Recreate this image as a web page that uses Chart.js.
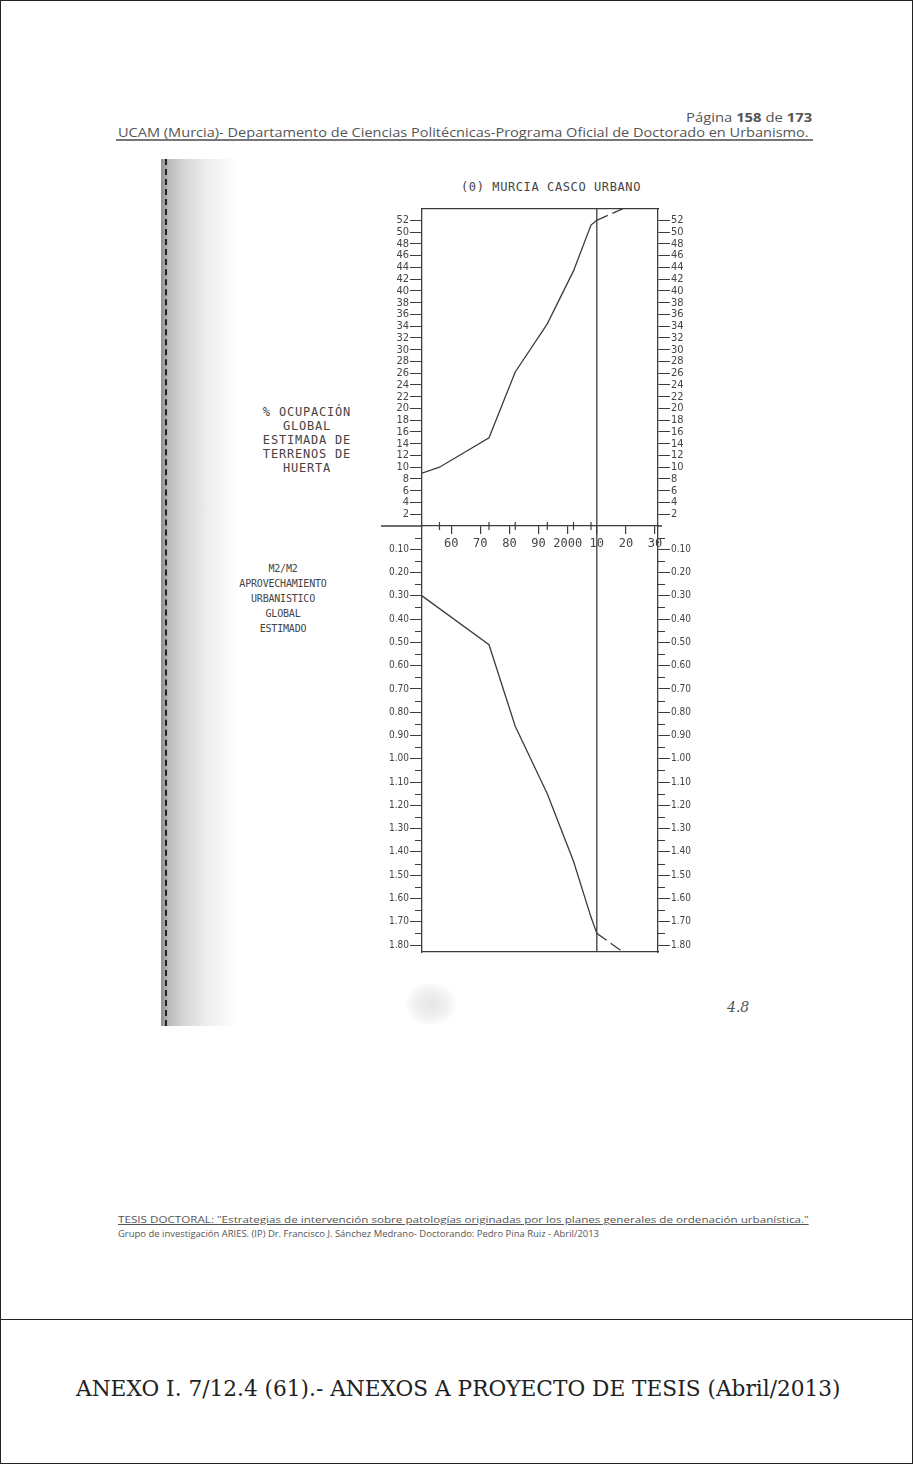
<!DOCTYPE html>
<html>
<head>
<meta charset="utf-8">
<title>(0) MURCIA CASCO URBANO</title>
<script src="https://cdn.jsdelivr.net/npm/chart.js@4.4.1/dist/chart.umd.min.js"></script>
<style>
    html, body { margin: 0; padding: 0; background: #fff; }
    #page {
        position: relative;
        width: 913px;
        height: 1464px;
        overflow: hidden;
        background: #fff;
        box-sizing: border-box;
        border: 1px solid #222;
    }
    .abs { position: absolute; white-space: nowrap; }
    .fit { transform-origin: 0 50%; }
    .doc { font-family: 'Open Sans', 'Liberation Sans', sans-serif; color: #555; }
    .plot { font-family: 'DejaVu Sans Mono', 'Liberation Mono', monospace; color: #444; text-align: center; }
    #sep { position: absolute; left: 0; right: 0; top: 1318px; border-top: 1px solid #222; }
    #strip {
        position: absolute; left: 160px; top: 158px; width: 75px; height: 867px;
        background: linear-gradient(to right, #8f8f8f 0%, #b9b9b9 10%, #d6d6d6 30%, #ececec 60%, rgba(255,255,255,0) 100%);
    }
    #dash {
        position: absolute; left: 164px; top: 158px; height: 867px;
        border-left: 2px dashed #222;
    }
    #smudge {
        position: absolute; left: 405px; top: 982px; width: 50px; height: 42px;
        background: radial-gradient(ellipse at center, #e6e6e6 0%, #f2f2f2 50%, rgba(255,255,255,0) 75%);
    }
    canvas { position: absolute; }
</style>
</head>
<body>
<div id="page">
    <div id="strip"></div>
    <div id="dash"></div>
    <div id="smudge"></div>

    <div id="pagina" class="abs doc fit" style="left:685px; top:108px; font-size:12px;">Página <b>158</b> de <b>173</b></div>
    <div id="ucam" class="abs doc fit" style="left:117px; top:123px; font-size:12px;">UCAM (Murcia)- Departamento de Ciencias Politécnicas-Programa Oficial de Doctorado en Urbanismo.</div>
    <div class="abs" style="left:115px; top:138px; width:697px; height:2px; background:#777;"></div>

    <div class="abs plot" style="left:450px; top:179px; width:200px; font-size:12px; letter-spacing:0.6px;">(0) MURCIA CASCO URBANO</div>

    <div class="abs plot" style="left:236px; top:404px; width:140px; font-size:12px; line-height:14px; letter-spacing:0.8px;">% OCUPACIÓN<br>GLOBAL<br>ESTIMADA DE<br>TERRENOS DE<br>HUERTA</div>

    <div class="abs plot" style="left:212px; top:560px; width:140px; font-size:10px; line-height:15px; letter-spacing:-0.2px;">M2/M2<br>APROVECHAMIENTO<br>URBANISTICO<br>GLOBAL<br>ESTIMADO</div>

    <canvas id="topChart" width="320" height="360" style="left:380px; top:200px; width:320px; height:360px;"></canvas>
    <canvas id="botChart" width="320" height="450" style="left:380px; top:515px; width:320px; height:450px;"></canvas>

    <div class="abs" style="left:726px; top:998px; font-family:'DejaVu Serif', serif; font-style:italic; font-size:14px; color:#555;">4.8</div>

    <div id="tesis" class="abs doc fit" style="left:117px; top:1212px; font-size:9px; text-decoration:underline;">TESIS DOCTORAL: "Estrategias de intervención sobre patologías originadas por los planes generales de ordenación urbanística."</div>
    <div id="grupo" class="abs doc fit" style="left:117px; top:1226px; font-size:9px;">Grupo de investigación ARIES. (IP) Dr. Francisco J. Sánchez Medrano- Doctorando: Pedro Pina Ruiz - Abril/2013</div>

    <div id="sep"></div>
    <div id="anexo" class="abs fit" style="left:75px; top:1375px; font-family:'DejaVu Serif', 'Liberation Serif', serif; font-size:22px; color:#222;">ANEXO I. 7/12.4 (61).- ANEXOS A PROYECTO DE TESIS (Abril/2013)</div>
</div>

<script>
// x axis (years)
const decadeYears = [1960, 1970, 1980, 1990, 2000, 2010, 2020, 2030];
const decadeLabels = ['60', '70', '80', '90', '2000', '10', '20', '30'];
const markYears = [1956, 1973, 1982, 1993, 2002, 2008];
const refYear = 2010;

// upper graph: % ocupacion de huerta
const topYears = [1950, 1956, 1973, 1982, 1993, 2002, 2008, 2010];
const topValues = [9.0, 10.0, 15.0, 26.2, 34.4, 43.4, 51.2, 52.0];
const topProjYears = [2010, 2019];
const topProjValues = [52.0, 54.0];
const topTicks = [2, 4, 6, 8, 10, 12, 14, 16, 18, 20, 22, 24, 26, 28, 30, 32, 34, 36, 38, 40, 42, 44, 46, 48, 50, 52];

// lower graph: m2/m2 aprovechamiento
const botYears = [1950, 1973, 1982, 1993, 2002, 2008, 2010];
const botValues = [0.30, 0.51, 0.86, 1.15, 1.44, 1.68, 1.75];
const botProjYears = [2010, 2019];
const botProjValues = [1.75, 1.83];
const botTicks = [0.10, 0.20, 0.30, 0.40, 0.50, 0.60, 0.70, 0.80, 0.90, 1.00, 1.10, 1.20, 1.30, 1.40, 1.50, 1.60, 1.70, 1.80];
const botMinorTicks = [0.05, 0.15, 0.25, 0.35, 0.45, 0.55, 0.65, 0.75, 0.85, 0.95, 1.05, 1.15, 1.25, 1.35, 1.45, 1.55, 1.65, 1.75];

const INK = '#3c3c3c';
const MONO = "'DejaVu Sans Mono', 'Liberation Mono', monospace";
const NARROW = "'DejaVu Sans Condensed', 'Liberation Sans Narrow', 'Roboto Condensed', Roboto, sans-serif";

function fitText(id, w) {
    const el = document.getElementById(id);
    el.style.transform = 'scaleX(' + (w / el.scrollWidth) + ')';
}
fitText('pagina', 126);
fitText('ucam', 691);
fitText('tesis', 691);
fitText('grupo', 481);
fitText('anexo', 765);

const pts = (xs, ys) => xs.map((x, i) => ({ x: x, y: ys[i] }));

// short ticks between labelled ones, and the middle line running out to the left
const minorTicks = {
    id: 'minorTicks',
    afterDraw(chart, args, opts) {
        const ctx = chart.ctx;
        ctx.save();
        ctx.strokeStyle = INK;
        ctx.lineWidth = 1;
        (opts.values || []).forEach(v => {
            ['y', 'y2'].forEach(id => {
                const s = chart.scales[id];
                const py = Math.round(s.getPixelForValue(v)) + 0.5;
                const left = s.position === 'left';
                const x0 = left ? s.right : s.left;
                ctx.beginPath();
                ctx.moveTo(x0, py);
                ctx.lineTo(x0 + (left ? -7 : 7), py);
                ctx.stroke();
            });
        });
        if (opts.extendAxis) {
            const a = chart.chartArea;
            ctx.lineWidth = 1.3;
            ctx.beginPath();
            ctx.moveTo(0, a.bottom);
            ctx.lineTo(a.left, a.bottom);
            ctx.moveTo(a.right, a.bottom);
            ctx.lineTo(a.right + 4, a.bottom);
            ctx.stroke();
        }
        ctx.restore();
    }
};

function yAxis(position, min, max, ticks, fmt, width, size, reverse) {
    return {
        type: 'linear',
        position: position,
        min: min,
        max: max,
        reverse: !!reverse,
        afterBuildTicks: s => { s.ticks = ticks.map(v => ({ value: v })); },
        afterFit: s => { s.width = width; },
        ticks: {
            autoSkip: false,
            padding: 1,
            color: '#444',
            font: { family: NARROW, size: size },
            callback: v => fmt(v)
        },
        grid: { drawOnChartArea: false, drawTicks: true, tickLength: 12, color: INK, lineWidth: 1 },
        border: { display: true, color: INK, width: 1.3 }
    };
}

const lineStyle = { borderColor: INK, borderWidth: 1.3, pointRadius: 0, showLine: true, fill: false };

new Chart(document.getElementById('topChart'), {
    type: 'scatter',
    data: {
        datasets: [
            Object.assign({ data: pts(topYears, topValues) }, lineStyle),
            Object.assign({ data: pts(topProjYears, topProjValues), borderDash: [12, 5] }, lineStyle),
            Object.assign({ data: [{ x: refYear, y: 0 }, { x: refYear, y: 54 }] }, lineStyle),
            {
                data: markYears.map(x => ({ x: x, y: 0 })),
                pointStyle: 'line', rotation: 90, pointRadius: 4,
                borderColor: INK, borderWidth: 1.2, clip: false
            }
        ]
    },
    options: {
        responsive: false,
        devicePixelRatio: 1,
        animation: false,
        layout: { padding: 0 },
        plugins: { legend: { display: false }, tooltip: { enabled: false }, minorTicks: { extendAxis: true } },
        scales: {
            x: {
                type: 'linear',
                position: 'bottom',
                min: 1950,
                max: 2031,
                afterBuildTicks: s => { s.ticks = decadeYears.map(v => ({ value: v })); },
                afterFit: s => { s.height = 35; },
                ticks: {
                    autoSkip: false,
                    maxRotation: 0,
                    padding: 3,
                    color: '#444',
                    font: { family: MONO, size: 12 },
                    callback: (v, i) => decadeLabels[i]
                },
                grid: { drawOnChartArea: false, drawTicks: true, tickLength: 8, color: INK, lineWidth: 1.2 },
                border: { display: true, color: INK, width: 1.3 }
            },
            xTop: {
                type: 'linear',
                position: 'top',
                min: 1950,
                max: 2031,
                afterFit: s => { s.height = 7; },
                ticks: { display: false },
                grid: { display: false, drawTicks: false },
                border: { display: true, color: INK, width: 1.3 }
            },
            y: yAxis('left', 0, 54, topTicks, v => String(v), 41, 11),
            y2: yAxis('right', 0, 54, topTicks, v => String(v), 43, 11)
        }
    },
    plugins: [minorTicks]
});

new Chart(document.getElementById('botChart'), {
    type: 'scatter',
    data: {
        datasets: [
            Object.assign({ data: pts(botYears, botValues) }, lineStyle),
            Object.assign({ data: pts(botProjYears, botProjValues), borderDash: [12, 5] }, lineStyle),
            Object.assign({ data: [{ x: refYear, y: 0 }, { x: refYear, y: 1.83 }] }, lineStyle)
        ]
    },
    options: {
        responsive: false,
        devicePixelRatio: 1,
        animation: false,
        layout: { padding: { top: 10 } },
        plugins: { legend: { display: false }, tooltip: { enabled: false }, minorTicks: { values: botMinorTicks } },
        scales: {
            x: {
                type: 'linear',
                position: 'bottom',
                min: 1950,
                max: 2031,
                afterFit: s => { s.height = 14; },
                ticks: { display: false },
                grid: { display: false, drawTicks: false },
                border: { display: true, color: INK, width: 1.3 }
            },
            y: yAxis('left', 0, 1.83, botTicks, v => v.toFixed(2), 41, 10, true),
            y2: yAxis('right', 0, 1.83, botTicks, v => v.toFixed(2), 43, 10, true)
        }
    },
    plugins: [minorTicks]
});
</script>
</body>
</html>
